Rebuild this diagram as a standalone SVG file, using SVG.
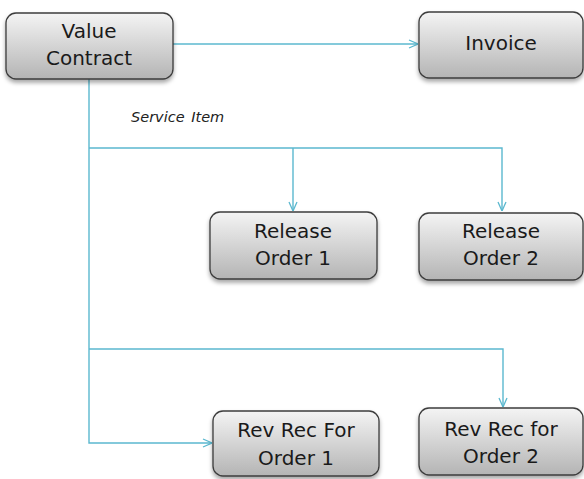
<svg xmlns="http://www.w3.org/2000/svg" width="584" height="479" viewBox="0 0 584 479">
<defs>
<linearGradient id="g" x1="0" y1="0" x2="0" y2="1">
<stop offset="0" stop-color="#f4f4f4"/>
<stop offset="1" stop-color="#b4b4b4"/>
</linearGradient>
<filter id="sh" x="-10%" y="-10%" width="120%" height="140%">
<feDropShadow dx="0" dy="3" stdDeviation="2" flood-color="#000" flood-opacity="0.35"/>
</filter>
<marker id="arr" viewBox="0 0 10 10" refX="10" refY="5" markerWidth="10" markerHeight="10" markerUnits="userSpaceOnUse" orient="auto">
<path d="M1,1 L10,5 L1,9" fill="none" stroke="#5bb8cf" stroke-width="1.3"/>
</marker>
</defs>
<style>
.box{fill:url(#g);stroke:#3c3c3c;stroke-width:1.3;filter:url(#sh)}
.t{font-family:"DejaVu Sans",Verdana,sans-serif;font-size:20px;fill:#1a1a1a;text-anchor:middle}
.c{fill:none;stroke:#5bb8cf;stroke-width:1.4}
.lbl{font-family:"DejaVu Sans",Verdana,sans-serif;font-size:14.5px;font-style:italic;fill:#222;word-spacing:2px}
</style>
<g id="connectors">
<path class="c" d="M173,44 H418" marker-end="url(#arr)"/>
<path class="c" d="M89,79 V443 H212" marker-end="url(#arr)"/>
<path class="c" d="M89,148 H502 V211" marker-end="url(#arr)"/>
<path class="c" d="M293,148 V211" marker-end="url(#arr)"/>
<path class="c" d="M89,349 H503 V407" marker-end="url(#arr)"/>
<text class="lbl" x="131" y="122">Service Item</text>
</g>
<g id="value-contract">
<rect class="box" x="6" y="13" width="167" height="66" rx="10"/>
<text class="t" x="89" y="38">Value</text>
<text class="t" x="89" y="65">Contract</text>
</g>
<g id="invoice">
<rect class="box" x="419" y="12" width="164" height="66" rx="10"/>
<text class="t" x="501" y="50">Invoice</text>
</g>
<g id="release-order-1">
<rect class="box" x="210" y="212" width="167" height="67" rx="10"/>
<text class="t" x="293" y="238">Release</text>
<text class="t" x="293" y="265">Order 1</text>
</g>
<g id="release-order-2">
<rect class="box" x="419" y="213" width="164" height="67" rx="10"/>
<text class="t" x="501" y="238">Release</text>
<text class="t" x="501" y="265">Order 2</text>
</g>
<g id="rev-rec-1">
<rect class="box" x="213" y="411" width="166" height="65" rx="10"/>
<text class="t" x="296" y="437">Rev Rec For</text>
<text class="t" x="296" y="465">Order 1</text>
</g>
<g id="rev-rec-2">
<rect class="box" x="419" y="408" width="164" height="67" rx="10"/>
<text class="t" x="501" y="436">Rev Rec for</text>
<text class="t" x="501" y="463">Order 2</text>
</g>
</svg>
